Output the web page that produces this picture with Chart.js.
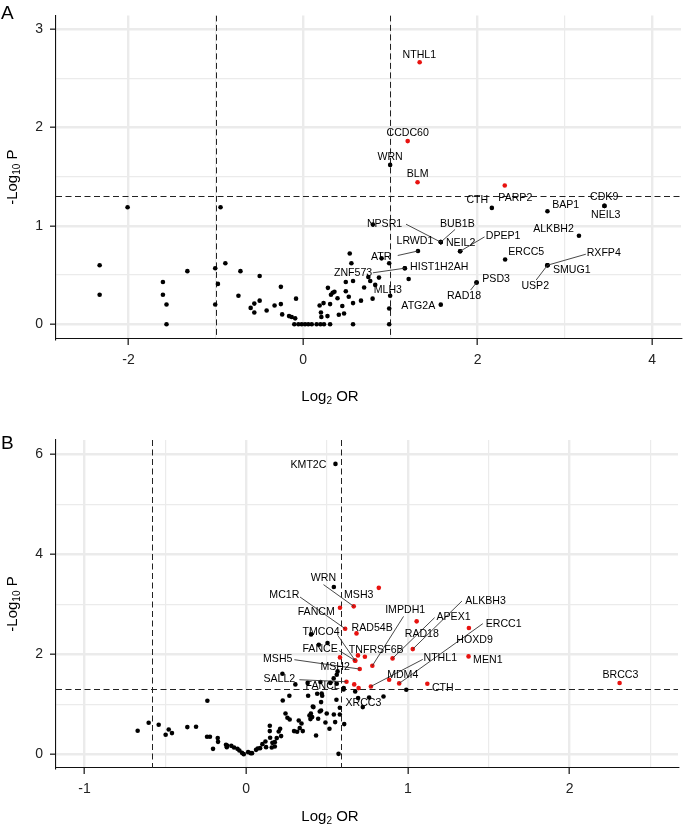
<!DOCTYPE html>
<html><head><meta charset="utf-8">
<script src="https://cdn.jsdelivr.net/npm/chart.js@4.4.1/dist/chart.umd.min.js"></script>
<style>
html,body{margin:0;padding:0;background:#fff;}
#wrap{position:relative;width:685px;height:830px;overflow:hidden;}
canvas{position:absolute;left:0;}
</style></head><body>
<div id="wrap">
<canvas id="cA" width="685" height="415" style="top:0px"></canvas>
<canvas id="cB" width="685" height="415" style="top:415px"></canvas>
</div>
<script>
// ---------------- Panel A data ----------------
const aOtherX = [-2.01,-0.945,-2.33,-2.33,-1.605,-1.605,-1.564,-1.564,-1.325,-1.006,-1.006,-0.975,-0.89,-0.717,-0.74,-0.497,-0.60,-0.558,-0.558,-0.497,-0.417,-0.326,-0.254,-0.254,-0.239,-0.16,-0.13,-0.09,-0.08,-0.1,-0.053,-0.015,0.023,0.06,0.1,0.156,0.2,0.24,0.31,0.19,0.205,0.21,0.235,0.28,0.285,0.31,0.32,0.34,0.36,0.395,0.41,0.45,0.47,0.49,0.49,0.524,0.535,0.554,0.573,0.573,0.573,0.664,0.70,0.748,0.77,0.797,0.827,0.87,0.80,0.90,0.987,0.987,0.987,1.21];
const aOtherY = [1.19,1.19,0.60,0.30,0.43,0.30,0.20,0.0,0.54,0.57,0.20,0.41,0.62,0.54,0.29,0.49,0.166,0.21,0.12,0.24,0.14,0.19,0.38,0.205,0.10,0.083,0.073,0.06,0.26,0,0,0,0,0,0,0,0,0,0,0.19,0.12,0.073,0.215,0.083,0.37,0.205,0.30,0.32,0.33,0.265,0.096,0.185,0.11,0.43,0.335,0.28,0.72,0.62,0.44,0.215,0,0.24,0.374,0.48,0.44,0.26,0.40,0.474,1.014,0.67,0.62,0.16,0,0.46];
const aGenes = ['NTHL1','CCDC60','WRN','BLM','PARP2','CTH','BAP1','CDK9','NEIL3','ALKBH2','NPSR1','LRWD1','BUB1B','NEIL2','DPEP1','ATR','ERCC5','RXFP4','SMUG1','USP2','ZNF573','HIST1H2AH','PSD3','RAD18','MLH3','ATG2A'];
const aGeneX = [1.336,1.199,0.998,1.312,2.311,2.163,2.80,3.453,3.453,3.161,1.578,1.578,1.578,1.80,1.80,1.317,2.315,2.80,2.80,2.80,1.166,1.166,1.988,1.988,0.998,1.578];
const aGeneY = [2.664,1.862,1.62,1.444,1.411,1.183,1.149,1.203,1.203,0.90,0.835,0.835,0.835,0.742,0.742,0.745,0.659,0.60,0.60,0.60,0.57,0.57,0.424,0.424,0.29,0.199];
const aGeneSig = [1,1,0,1,1,0,0,0,0,0,0,0,0,0,0,0,0,0,0,0,0,0,0,0,0,0];
// label text centres (data units) and connector starts (null = none)
const aLabX = [1.332,1.199,0.997,1.313,2.432,1.996,3.009,3.45,3.468,2.869,0.934,1.282,1.768,1.806,2.292,0.895,2.557,3.445,3.078,2.66,0.573,1.56,2.212,1.844,0.971,1.321];
const aLabY = [2.740,1.941,1.696,1.524,1.285,1.262,1.216,1.288,1.109,0.964,1.017,0.848,1.020,0.825,0.895,0.682,0.729,0.726,0.553,0.384,0.517,0.580,0.463,0.288,0.344,0.182];
const aLinkX = [null,null,null,null,null,null,null,null,null,null,1.18,null,1.742,null,2.079,1.085,null,3.240,null,2.671,0.80,null,null,1.92,null,null];
const aLinkY = [null,null,null,null,null,null,null,null,null,null,1.017,null,0.964,null,0.888,0.699,null,0.712,null,0.450,0.523,null,null,0.348,null,null];
const aXTicks = [-2,-1,0,1,2,3,4];
const aXMajor = [-2,0,2,4];
const aYTicks = [0,0.5,1,1.5,2,2.5,3];
const aYMajor = [0,1,2,3];
const aThreshX = [-1,1];
const aThreshY = 1.301;

// ---------------- Panel B data ----------------
const bOtherX = [-0.671,-0.603,-0.541,-0.498,-0.479,-0.459,-0.364,-0.31,-0.24,-0.242,-0.224,-0.205,-0.176,-0.174,-0.125,-0.118,-0.12,-0.092,-0.075,-0.054,-0.042,-0.026,-0.015,0.012,0.028,0.036,0.061,0.071,0.086,0.10,0.119,0.123,0.146,0.146,0.148,0.158,0.162,0.177,0.177,0.189,0.201,0.21,0.216,0.226,0.243,0.255,0.267,0.269,0.296,0.315,0.325,0.331,0.342,0.35,0.383,0.391,0.397,0.40,0.408,0.412,0.416,0.432,0.439,0.445,0.455,0.463,0.463,0.467,0.47,0.49,0.498,0.515,0.542,0.55,0.558,0.579,0.579,0.571,0.606,0.602,0.674,0.692,0.76,0.849,0.99,0.401,0.449,0.503,0.224,0.304,0.38,0.459,0.52,0.541,0.56,0.56,0.603,0.565,0.542];
const bOtherY = [0.473,0.633,0.593,0.393,0.50,0.427,0.547,0.553,1.073,0.353,0.353,0.113,0.327,0.253,0.193,0.18,0.147,0.173,0.14,0.113,0.08,0.033,0.007,0.047,0.027,0.027,0.093,0.12,0.127,0.207,0.26,0.147,0.573,0.467,0.333,0.14,0.233,0.16,0.247,0.327,0.46,0.513,0.367,1.08,0.82,0.733,1.173,0.70,0.467,0.453,0.68,0.527,0.62,0.467,1.173,0.78,0.707,0.82,0.747,0.96,0.947,0.38,1.213,0.713,0.86,1.047,0.88,1.22,1.173,0.64,0.82,0.513,0.80,0.647,1.093,0.933,0.80,0.013,0.607,1.30,1.26,1.127,1.14,1.16,1.293,2.40,2.193,2.227,1.613,1.40,1.43,1.447,1.43,1.52,1.593,1.413,1.327,1.66,3.347];
const bOtherRedX = [0.691,0.668];
const bOtherRedY = [1.98,1.40];
const bGenes = ['KMT2C','WRN','MSH3','MC1R','FANCM','IMPDH1','ALKBH3','APEX1','ERCC1','RAD54B','TMCO4','RAD18','HOXD9','FANCE','TNFRSF6B','MSH5','MSH2','NTHL1','MEN1','MDM4','SALL2','FANCL','CTH','BRCC3','XRCC3'];
const bGeneX = [0.552,0.665,0.82,0.612,0.58,0.78,1.03,0.905,0.946,0.682,0.675,1.054,1.377,0.672,0.734,0.702,0.58,0.771,1.375,0.884,0.62,0.695,1.12,2.309,0.721];
const bGeneY = [5.806,2.96,3.33,2.513,2.933,1.773,2.106,1.92,1.42,2.42,1.873,2.66,2.527,1.88,1.953,1.707,1.94,1.36,1.96,1.493,1.453,1.327,1.413,1.427,0.947];
const bGeneSig = [0,1,1,1,1,1,1,1,1,1,1,1,1,1,1,1,1,1,1,1,1,1,1,1,0];
const bLabX = [0.385,0.478,0.696,0.236,0.433,0.983,1.48,1.282,1.592,0.779,0.463,1.086,1.412,0.457,0.804,0.195,0.55,1.20,1.494,0.968,0.205,0.473,1.216,2.314,0.725];
const bLabY = [5.78,3.526,3.194,3.18,2.846,2.88,3.074,2.746,2.614,2.534,2.446,2.40,2.294,2.106,2.08,1.90,1.74,1.934,1.894,1.594,1.514,1.36,1.326,1.586,1.034];
const bLinkX = [null,0.478,null,0.333,null,0.973,1.334,1.165,1.463,null,0.566,null,null,0.573,null,0.298,null,1.092,null,null,0.329,null,null,null,null];
const bLinkY = [null,3.394,null,3.146,null,2.76,3.066,2.734,2.614,null,2.38,null,null,2.08,null,1.894,null,1.90,null,null,1.494,null,null,null,null];
const bXTicks = [-1,-0.5,0,0.5,1,1.5,2,2.5];
const bXMajor = [-1,0,1,2];
const bYTicks = [0,1,2,3,4,5,6];
const bYMajor = [0,2,4,6];
const bThreshX = [-0.585,0.585];
const bThreshY = 1.301;

// ---------------- rendering ----------------
const FONT = "'Liberation Sans', Arial, Helvetica, sans-serif";
const RED = '#e8120f';
const BLACK = '#000000';

function pts(xs, ys, filt) {
  const out = [];
  for (let i = 0; i < xs.length; i++) if (!filt || filt(i)) out.push({x: xs[i], y: ys[i]});
  return out;
}

function drawSubText(ctx, parts, x, y, align) {
  let total = 0;
  parts.forEach(p => { ctx.font = p[1] + 'px ' + FONT; total += ctx.measureText(p[0]).width; });
  let cx = align === 'center' ? x - total / 2 : x;
  ctx.textAlign = 'left';
  ctx.textBaseline = 'alphabetic';
  parts.forEach(p => { ctx.font = p[1] + 'px ' + FONT; ctx.fillText(p[0], cx, y + p[2]); cx += ctx.measureText(p[0]).width; });
}

function makePanel(id, P) {
  const panelPlugin = {
    id: 'panel' + id,
    beforeDatasetsDraw(chart) {
      const {ctx, chartArea: a, scales: {x, y}} = chart;
      ctx.save();
      ctx.beginPath(); ctx.rect(a.left, a.top, a.right - a.left, a.bottom - a.top); ctx.clip();
      ctx.strokeStyle = '#222'; ctx.lineWidth = 1; ctx.setLineDash([6, 3.5]);
      P.threshX.forEach(v => {
        const px = Math.round(x.getPixelForValue(v)) + 0.5;
        ctx.beginPath(); ctx.moveTo(px, a.top); ctx.lineTo(px, a.bottom); ctx.stroke();
      });
      const py = Math.round(y.getPixelForValue(P.threshY)) + 0.5;
      ctx.beginPath(); ctx.moveTo(a.left, py); ctx.lineTo(a.right, py); ctx.stroke();
      ctx.restore();
    },
    afterDatasetsDraw(chart) {
      const {ctx, scales: {x, y}} = chart;
      ctx.save();
      ctx.strokeStyle = '#333'; ctx.lineWidth = 0.9; ctx.setLineDash([]);
      P.genes.forEach((g, i) => {
        if (P.linkX[i] === null) return;
        ctx.beginPath();
        ctx.moveTo(x.getPixelForValue(P.linkX[i]), y.getPixelForValue(P.linkY[i]));
        ctx.lineTo(x.getPixelForValue(P.gx[i]), y.getPixelForValue(P.gy[i]));
        ctx.stroke();
      });
      ctx.fillStyle = '#000';
      ctx.font = '10.6px ' + FONT;
      ctx.textAlign = 'center'; ctx.textBaseline = 'middle';
      P.genes.forEach((g, i) => {
        ctx.fillText(g, x.getPixelForValue(P.lx[i]), y.getPixelForValue(P.ly[i]));
      });
      ctx.restore();
    },
    afterDraw(chart) {
      const {ctx, chartArea: a} = chart;
      ctx.save();
      ctx.fillStyle = '#000';
      ctx.font = P.letterSize + 'px ' + FONT; ctx.textAlign = 'left'; ctx.textBaseline = 'alphabetic';
      ctx.fillText(P.letter, 1, P.letterY);
      drawSubText(ctx, [['Log', 15, 0], ['2', 10, 3], [' OR', 15, 0]], P.xTitleX, P.xTitleY, 'center');
      ctx.translate(P.yTitleX, (a.top + a.bottom) / 2);
      ctx.rotate(-Math.PI / 2);
      drawSubText(ctx, [['-Log', 15, 0], ['10', 10, 3], [' P', 15, 0]], 0, 0, 'center');
      ctx.restore();
    }
  };

  const axisCommon = (ticksArr, major, fitKey, fitVal) => ({
    type: 'linear',
    afterBuildTicks: s => { s.ticks = ticksArr.map(v => ({value: v})); },
    afterFit: s => { s[fitKey] = fitVal; },
    ticks: {
      autoSkip: false, maxRotation: 0, padding: 7, color: '#222',
      font: {family: FONT, size: 14},
      callback: v => major.includes(v) ? String(v) : ''
    },
    grid: {
      color: '#ebebeb',
      lineWidth: c => (c.tick && major.includes(c.tick.value)) ? 2.4 : 1.2,
      tickColor: c => (c.tick && major.includes(c.tick.value)) ? '#333' : 'rgba(0,0,0,0)',
      tickLength: 6, tickWidth: 1.4
    },
    border: {display: true, color: '#111', width: 1.1}
  });

  const xAxis = Object.assign(axisCommon(P.xTicks, P.xMajor, 'height', P.xAxisH), {min: P.xMin, max: P.xMax});
  const yAxis = Object.assign(axisCommon(P.yTicks, P.yMajor, 'width', 56), {min: P.yMin, max: P.yMax});

  return new Chart(document.getElementById(id), {
    type: 'scatter',
    data: {datasets: [
      {data: pts(P.ox, P.oy), backgroundColor: BLACK, pointRadius: 2.3, borderWidth: 0},
      {data: pts(P.orx, P.ory), backgroundColor: RED, pointRadius: 2.3, borderWidth: 0},
      {data: pts(P.gx, P.gy, i => !P.sig[i]), backgroundColor: BLACK, pointRadius: 2.3, borderWidth: 0},
      {data: pts(P.gx, P.gy, i => P.sig[i]), backgroundColor: RED, pointRadius: 2.3, borderWidth: 0}
    ]},
    options: {
      responsive: false, animation: false, devicePixelRatio: 1,
      layout: {padding: {top: P.padTop, right: P.padRight, left: 0, bottom: 0}},
      plugins: {legend: {display: false}, tooltip: {enabled: false}},
      scales: {x: xAxis, y: yAxis}
    },
    plugins: [panelPlugin]
  });
}

makePanel('cA', {
  ox: aOtherX, oy: aOtherY, orx: [], ory: [],
  genes: aGenes, gx: aGeneX, gy: aGeneY, sig: aGeneSig,
  lx: aLabX, ly: aLabY, linkX: aLinkX, linkY: aLinkY,
  xTicks: aXTicks, xMajor: aXMajor, yTicks: aYTicks, yMajor: aYMajor,
  threshX: aThreshX, threshY: aThreshY,
  xMin: -2.83, xMax: 4.33, yMin: -0.15, yMax: 3.14,
  padTop: 8, padRight: 0, xAxisH: 76,
  letter: 'A', letterSize: 19, letterY: 19,
  xTitleX: 330, xTitleY: 401, yTitleX: 17
});

makePanel('cB', {
  ox: bOtherX, oy: bOtherY, orx: bOtherRedX, ory: bOtherRedY,
  genes: bGenes, gx: bGeneX, gy: bGeneY, sig: bGeneSig,
  lx: bLabX, ly: bLabY, linkX: bLinkX, linkY: bLinkY,
  xTicks: bXTicks, xMajor: bXMajor, yTicks: bYTicks, yMajor: bYMajor,
  threshX: bThreshX, threshY: bThreshY,
  xMin: -1.176, xMax: 2.67, yMin: -0.27, yMax: 6.284,
  padTop: 25, padRight: 7, xAxisH: 62,
  letter: 'B', letterSize: 19, letterY: 34,
  xTitleX: 330, xTitleY: 406, yTitleX: 17
});
</script>
</body></html>
